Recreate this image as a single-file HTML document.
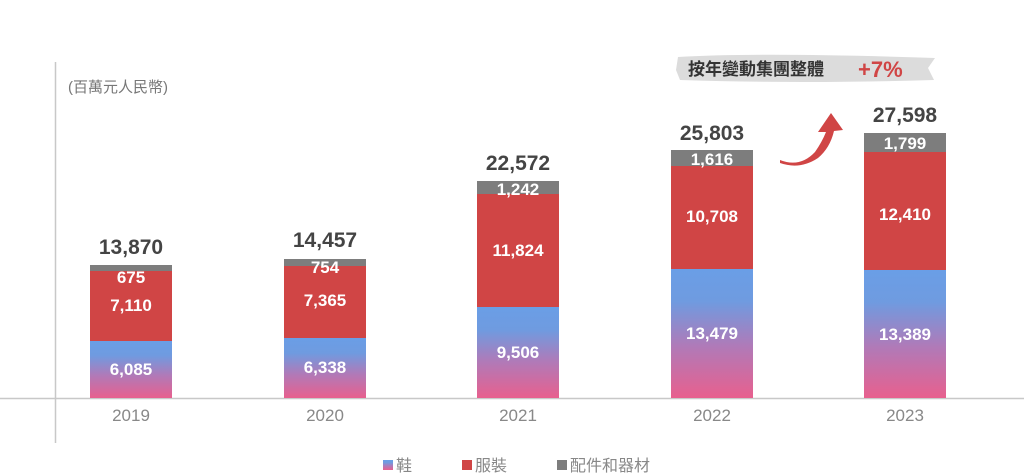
<!DOCTYPE html>
<html><head><meta charset="utf-8"><style>
html,body{margin:0;padding:0;background:#fff;}
svg{display:block;}
text{font-family:"Liberation Sans","Noto Sans CJK TC",sans-serif;}
</style></head><body>
<svg width="1024" height="476" viewBox="0 0 1024 476" xmlns="http://www.w3.org/2000/svg">
<defs>
<linearGradient id="shoe" x1="0" y1="0" x2="0" y2="1">
<stop offset="0" stop-color="#6a9ee6"/>
<stop offset="0.25" stop-color="#6f9be0"/>
<stop offset="0.6" stop-color="#b07ab8"/>
<stop offset="1" stop-color="#e8608e"/>
</linearGradient>
</defs>
<line x1="55.5" y1="62" x2="55.5" y2="443" stroke="#c8c8c8" stroke-width="1.5"/>
<line x1="0" y1="398.5" x2="1024" y2="398.5" stroke="#c8c8c8" stroke-width="1.5"/>
<text x="68" y="92" font-size="15" fill="#777">(百萬元人民幣)</text>

<g>
<rect x="90" y="265" width="82" height="7" fill="#7d7d7d"/>
<rect x="90" y="271" width="82" height="70" fill="#d04545"/>
<rect x="90" y="341" width="82" height="57" fill="url(#shoe)"/>
<rect x="284" y="259" width="82" height="8" fill="#7d7d7d"/>
<rect x="284" y="266" width="82" height="72" fill="#d04545"/>
<rect x="284" y="338" width="82" height="60" fill="url(#shoe)"/>
<rect x="477" y="181" width="82" height="14" fill="#7d7d7d"/>
<rect x="477" y="194" width="82" height="113" fill="#d04545"/>
<rect x="477" y="307" width="82" height="91" fill="url(#shoe)"/>
<rect x="671" y="150" width="82" height="17" fill="#7d7d7d"/>
<rect x="671" y="166" width="82" height="103" fill="#d04545"/>
<rect x="671" y="269" width="82" height="129" fill="url(#shoe)"/>
<rect x="864" y="133" width="82" height="19" fill="#7d7d7d"/>
<rect x="864" y="152" width="82" height="118" fill="#d04545"/>
<rect x="864" y="270" width="82" height="128" fill="url(#shoe)"/>
</g>

<g fill="#fff" font-size="17" font-weight="bold" text-anchor="middle">
<text x="131" y="283">675</text><text x="131" y="311">7,110</text><text x="131" y="375">6,085</text>
<text x="325" y="273">754</text><text x="325" y="306">7,365</text><text x="325" y="373">6,338</text>
<text x="518" y="195">1,242</text><text x="518" y="256">11,824</text><text x="518" y="358">9,506</text>
<text x="712" y="165">1,616</text><text x="712" y="222">10,708</text><text x="712" y="339">13,479</text>
<text x="905" y="149">1,799</text><text x="905" y="220">12,410</text><text x="905" y="340">13,389</text>
</g>

<g fill="#444" font-size="21" font-weight="bold" text-anchor="middle">
<text x="131" y="254">13,870</text>
<text x="325" y="247">14,457</text>
<text x="518" y="170">22,572</text>
<text x="712" y="140">25,803</text>
<text x="905" y="122">27,598</text>
</g>

<g fill="#888" font-size="17" text-anchor="middle">
<text x="131" y="421">2019</text><text x="325" y="421">2020</text><text x="518" y="421">2021</text><text x="712" y="421">2022</text><text x="905" y="421">2023</text>
</g>

<path d="M678 57 Q760 52 935 58 L928 68 L934 80 Q800 84 680 80 L676 70 Z" fill="#dcdcdc"/>
<text x="688" y="75" font-size="17" font-weight="bold" fill="#333">按年變動集團整體</text>
<text x="858" y="77" font-size="22" font-weight="bold" fill="#d04545">+7%</text>

<path d="M780 160 Q800 168 815 152 Q822 142 826 132 L818 132 L831 113 L843 130 L834 131 Q830 148 818 158 Q800 170 780 163 Z" fill="#d04545"/>

<rect x="383" y="460" width="10" height="10" fill="url(#shoe)"/>
<text x="396" y="471" font-size="16" fill="#888">鞋</text>
<rect x="462" y="460" width="10" height="10" fill="#d04545"/>
<text x="475" y="471" font-size="16" fill="#888">服裝</text>
<rect x="557" y="460" width="10" height="10" fill="#7d7d7d"/>
<text x="570" y="471" font-size="16" fill="#888">配件和器材</text>
</svg>
</body></html>
